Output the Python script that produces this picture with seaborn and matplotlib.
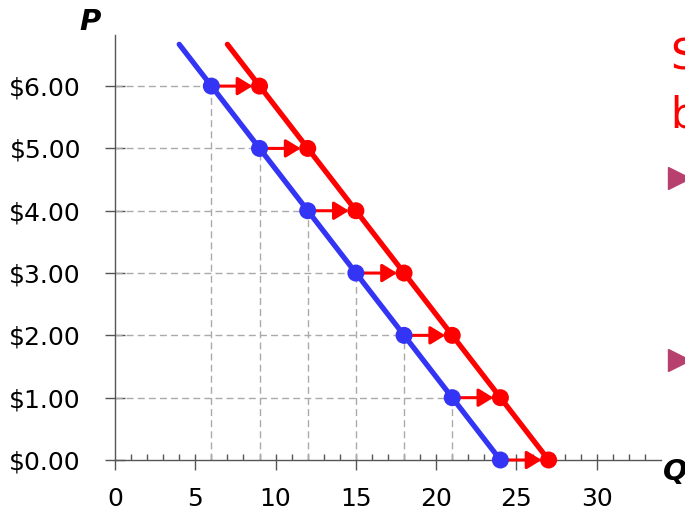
import matplotlib
matplotlib.use("Agg")
import matplotlib.pyplot as plt
from matplotlib.lines import Line2D
from matplotlib.ticker import FixedLocator
import pandas as pd
import seaborn as sns

# price levels and quantities before / after the shift
prices = [6, 5, 4, 3, 2, 1, 0]
qty_before = [6, 9, 12, 15, 18, 21, 24]
qty_after = [9, 12, 15, 18, 21, 24, 27]

# end points of the two straight lines
before_line_q = [4, 24]
before_line_p = [6.67, 0]
after_line_q = [7, 27]
after_line_p = [6.67, 0]

x_ticks = [0, 5, 10, 15, 20, 25, 30]
y_ticks = [0, 1, 2, 3, 4, 5, 6]
y_tick_labels = ["\\$0.00", "\\$1.00", "\\$2.00", "\\$3.00", "\\$4.00", "\\$5.00", "\\$6.00"]

BLUE = "#3434f4"
RED = "#ff0000"
AXIS = "#555555"

sns.set_style("ticks")
plt.rcParams["font.family"] = ["DejaVu Sans"]
plt.rcParams["text.color"] = "black"

fig = plt.figure(figsize=(6.85, 5.15), dpi=100)
ax = fig.add_axes([115 / 685, 55 / 515, 546 / 685, 425 / 515])

df_before = pd.DataFrame({"Q": qty_before, "P": prices})
df_after = pd.DataFrame({"Q": qty_after, "P": prices})

# dashed guides from the blue points to the axes
for q, p in zip(qty_before[:-1], prices[:-1]):
    ax.plot([q, q], [0, p], color="#aaaaaa", lw=1, ls=(0, (5, 3)), zorder=1)
    ax.plot([0, q], [p, p], color="#aaaaaa", lw=1, ls=(0, (5, 3)), zorder=1)

sns.lineplot(x=before_line_q, y=before_line_p, color=BLUE, linewidth=3.8, ax=ax, zorder=3)
sns.lineplot(x=after_line_q, y=after_line_p, color=RED, linewidth=3.8, ax=ax, zorder=3)

# arrows from old to new quantity
for q0, q1, p in zip(qty_before, qty_after, prices):
    ax.annotate("", xy=(q1, p), xytext=(q0, p),
                arrowprops=dict(arrowstyle="-|>,head_length=0.9,head_width=0.55",
                                color=RED, lw=2.2, shrinkA=0, shrinkB=5,
                                mutation_scale=10),
                zorder=4, annotation_clip=False)

sns.scatterplot(data=df_before, x="Q", y="P", color=BLUE, s=150, edgecolor="none",
                ax=ax, zorder=5, clip_on=False)
sns.scatterplot(data=df_after, x="Q", y="P", color=RED, s=150, edgecolor="none",
                ax=ax, zorder=5, clip_on=False)

ax.set_xlim(0, 34)
ax.set_ylim(0, 6.82)
ax.set_xlabel("")
ax.set_ylabel("")

ax.xaxis.set_major_locator(FixedLocator(x_ticks))
ax.xaxis.set_minor_locator(FixedLocator(list(range(1, 34))))
ax.xaxis.remove_overlapping_locs = False
ax.set_yticks(y_ticks)
ax.set_yticklabels(y_tick_labels)

ax.tick_params(axis="x", which="major", direction="out", length=7.5, width=1,
               color=AXIS, labelcolor="black", labelsize=18, pad=12)
ax.tick_params(axis="x", which="minor", direction="in", length=4, width=1, color=AXIS)
ax.tick_params(axis="y", which="major", direction="inout", length=15, width=1,
               color=AXIS, labelcolor="black", labelsize=18, pad=17)

for side in ["top", "right"]:
    ax.spines[side].set_visible(False)
for side in ["left", "bottom"]:
    ax.spines[side].set_color(AXIS)
    ax.spines[side].set_linewidth(1)

# axis letters
fig.text(90 / 685, 1 - 22 / 515, "P", fontsize=21, fontweight="bold", fontstyle="italic",
         color="black", ha="center", va="center")
fig.text(663 / 685, 1 - 472 / 515, "Q", fontsize=21, fontweight="bold", fontstyle="italic",
         color="black", ha="left", va="center")

# cut-off slide text on the right
fig.text(670 / 685, 1 - 70 / 515, "S", fontsize=30, color=RED, ha="left", va="baseline")
fig.text(670 / 685, 1 - 128 / 515, "b", fontsize=30, color=RED, ha="left", va="baseline")
for y in [178, 360]:
    fig.add_artist(Line2D([679 / 685], [1 - y / 515], marker=">", markersize=16,
                          color="#b8406e", transform=fig.transFigure))

fig.savefig("out.png", dpi=100)
